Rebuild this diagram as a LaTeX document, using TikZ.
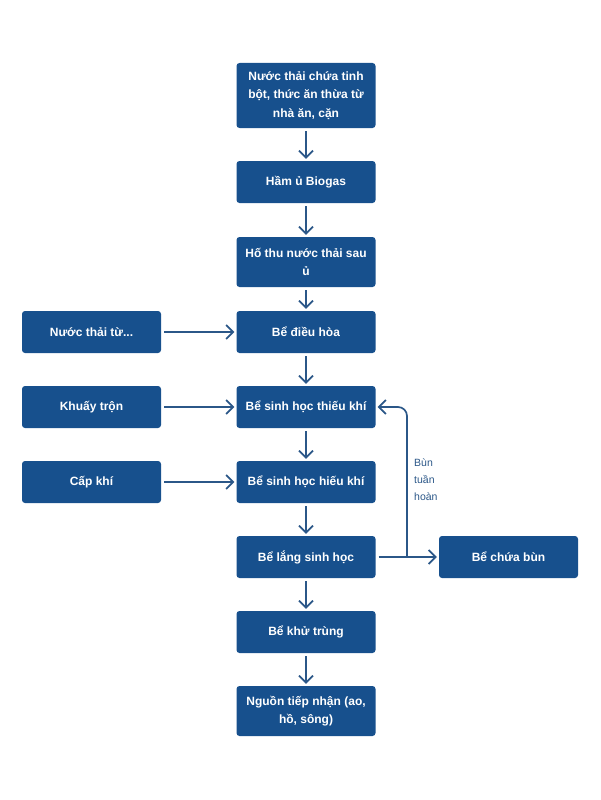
\documentclass[tikz,border=0pt]{standalone}
\usepackage{fontspec}
\setmainfont{Liberation Sans}
\usepackage{tikz}
\usetikzlibrary{arrows.meta,positioning}
\definecolor{boxblue}{HTML}{17508D}
\definecolor{lineblue}{HTML}{2B5788}
\tikzset{
  x=1pt, y=-1pt,
  step_n/.style = {rectangle, rounded corners=3pt, fill=boxblue, text=white, align=center,
    minimum width=139pt, minimum height=42pt, inner sep=2pt,
    font=\fontsize{12}{18.5}\selectfont\bfseries},
  step_t/.style = {step_n, minimum height=50pt},
  step_h/.style = {step_n, minimum height=65pt},
  flow/.style = {draw=lineblue, line width=1.7pt,
    -{Straight Barb[length=7pt,width=14pt,line width=1.7pt]}, shorten <=3pt, shorten >=2pt},
  note_t/.style = {text=lineblue, align=left, inner sep=0pt,
    font=\fontsize{10.5}{17}\selectfont}
}
\begin{document}
\begin{tikzpicture}
\useasboundingbox (0,0) rectangle (600,800);
% center column
\node [step_h] (src)   at (306,95.5) {Nước thải chứa tinh\\bột, thức ăn thừa từ\\nhà ăn, cặn};
\node [step_n] (biogas) at (306,182) {Hầm ủ Biogas};
\node [step_t] (hothu)  at (306,262) {Hố thu nước thải sau\\ủ};
\node [step_n] (dieuhoa) at (306,332) {Bể điều hòa};
\node [step_n] (thieu)  at (306,407) {Bể sinh học thiếu khí};
\node [step_n] (hieu)   at (306,482) {Bể sinh học hiếu khí};
\node [step_n] (lang)   at (306,557) {Bể lắng sinh học};
\node [step_n] (khutrung) at (306,632) {Bể khử trùng};
\node [step_t] (nguon)  at (306,711) {Nguồn tiếp nhận (ao,\\hồ, sông)};
% side inputs
\node [step_n] (ntt)    at (91.5,332) {Nước thải từ...};
\node [step_n] (khuay)  at (91.5,407) {Khuấy trộn};
\node [step_n] (capkhi) at (91.5,482) {Cấp khí};
\node [step_n] (chuabun) at (508.5,557) {Bể chứa bùn};

\draw [flow] (src) -- (biogas);
\draw [flow] (biogas) -- (hothu);
\draw [flow] (hothu) -- (dieuhoa);
\draw [flow] (dieuhoa) -- (thieu);
\draw [flow] (thieu) -- (hieu);
\draw [flow] (hieu) -- (lang);
\draw [flow] (lang) -- (khutrung);
\draw [flow] (khutrung) -- (nguon);

\draw [flow] (ntt) -- (dieuhoa);
\draw [flow] (khuay) -- (thieu);
\draw [flow] (capkhi) -- (hieu);

% sludge return
\coordinate (tap) at (407,557);
\draw [flow] (lang) -- (chuabun);
\draw [flow, shorten <=0pt, rounded corners=9pt] (tap) |- (thieu.east);
\node [note_t, anchor=west] (ghichu) at (414,480) {Bùn\\tuần\\hoàn};
\end{tikzpicture}
\end{document}
